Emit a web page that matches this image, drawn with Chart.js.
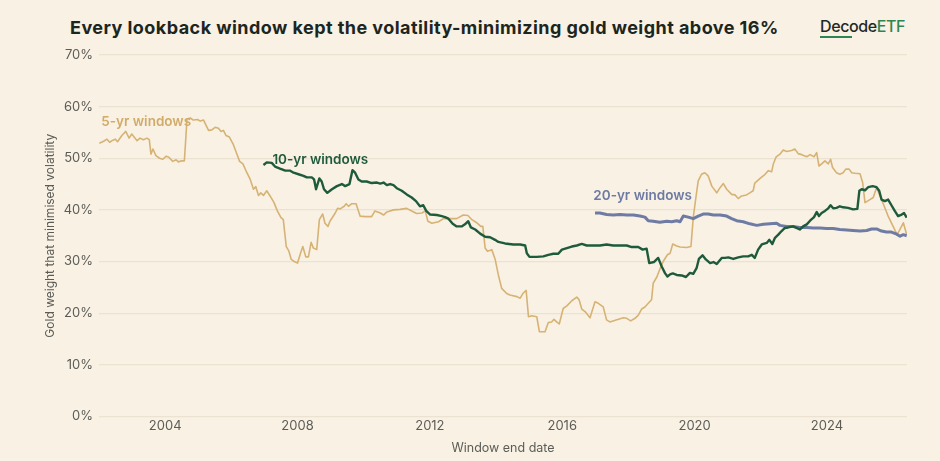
<!DOCTYPE html>
<html lang="en">
    <head>
        <meta charset="utf-8" />
        <title>Gold weight that minimised volatility</title>
        <style>
            html, body { margin: 0; padding: 0; background: #f9f1e4; }
            #wrap { position: relative; width: 940px; height: 461px; overflow: hidden; }
            #title { position: absolute; left: 70px; top: 17px; font-family: Inter, "Noto Sans", sans-serif; font-weight: 700; font-size: 18px; letter-spacing: 0.45px; color: #1c2620; white-space: nowrap; }
            #logo { position: absolute; left: 820px; top: 16px; font-family: Inter, "Noto Sans", sans-serif; font-weight: 500; font-size: 16px; letter-spacing: -0.4px; color: #1f2a24; white-space: nowrap; }
            #logo .etf { color: #2f8552; }
            #logo .bar { position: absolute; left: 0; top: 20px; width: 32px; height: 1.5px; background: #2f8552; }
            #chartBox { position: absolute; left: 0; top: 0; width: 940px; height: 461px; }
        </style>
    </head>
    <body>
        <div id="wrap">
            <div id="title">Every lookback window kept the volatility-minimizing gold weight above 16%</div>
            <div id="logo">Decode<span class="etf">ETF</span><div class="bar"></div></div>
            <div id="chartBox"><canvas id="goldWeightChart"></canvas></div>
        </div>

        <script src="https://cdn.jsdelivr.net/npm/chart.js"></script>
        <script>
            // window end dates (decimal years) and gold weight (%)
            const fiveYrDates = [2002.01, 2002.14, 2002.24, 2002.32, 2002.42, 2002.49, 2002.56, 2002.69, 2002.81, 2002.91,
                2002.99, 2003.15, 2003.24, 2003.34, 2003.45, 2003.52, 2003.57, 2003.63, 2003.72, 2003.83,
                2003.93, 2004.03, 2004.11, 2004.23, 2004.33, 2004.40, 2004.50, 2004.58, 2004.66, 2004.76,
                2004.85, 2004.98, 2005.06, 2005.16, 2005.31, 2005.41, 2005.51, 2005.61, 2005.69, 2005.76,
                2005.84, 2005.94, 2006.05, 2006.15, 2006.25, 2006.35, 2006.47, 2006.57, 2006.67, 2006.74,
                2006.82, 2006.89, 2006.97, 2007.07, 2007.17, 2007.29, 2007.39, 2007.50, 2007.57, 2007.66,
                2007.74, 2007.81, 2007.90, 2008.00, 2008.10, 2008.16, 2008.25, 2008.33, 2008.41, 2008.48,
                2008.58, 2008.66, 2008.76, 2008.83, 2008.92, 2008.98, 2009.14, 2009.21, 2009.29, 2009.41,
                2009.47, 2009.54, 2009.64, 2009.77, 2009.89, 2010.04, 2010.24, 2010.34, 2010.50, 2010.60,
                2010.70, 2010.90, 2011.10, 2011.30, 2011.45, 2011.60, 2011.76, 2011.86, 2011.94, 2012.06,
                2012.26, 2012.41, 2012.61, 2012.81, 2013.01, 2013.15, 2013.27, 2013.42, 2013.54, 2013.60,
                2013.67, 2013.74, 2013.87, 2013.97, 2014.07, 2014.17, 2014.32, 2014.42, 2014.63, 2014.73,
                2014.81, 2014.91, 2014.98, 2015.08, 2015.23, 2015.31, 2015.48, 2015.58, 2015.68, 2015.75,
                2015.83, 2015.91, 2016.03, 2016.14, 2016.29, 2016.44, 2016.51, 2016.59, 2016.69, 2016.84,
                2016.99, 2017.09, 2017.24, 2017.34, 2017.44, 2017.65, 2017.85, 2017.95, 2018.07, 2018.20,
                2018.30, 2018.40, 2018.50, 2018.60, 2018.70, 2018.75, 2018.86, 2018.95, 2019.05, 2019.18,
                2019.26, 2019.34, 2019.46, 2019.56, 2019.76, 2019.89, 2019.96, 2020.04, 2020.11, 2020.21,
                2020.31, 2020.41, 2020.52, 2020.67, 2020.77, 2020.87, 2020.97, 2021.12, 2021.22, 2021.32,
                2021.42, 2021.57, 2021.67, 2021.77, 2021.82, 2021.98, 2022.13, 2022.23, 2022.33, 2022.38,
                2022.46, 2022.58, 2022.68, 2022.78, 2022.93, 2023.03, 2023.13, 2023.24, 2023.39, 2023.49,
                2023.61, 2023.69, 2023.76, 2023.84, 2023.94, 2024.04, 2024.11, 2024.17, 2024.29, 2024.39,
                2024.49, 2024.57, 2024.67, 2024.75, 2024.85, 2025.00, 2025.08, 2025.15, 2025.30, 2025.40,
                2025.50, 2025.65, 2025.75, 2025.85, 2026.00, 2026.12, 2026.18, 2026.31, 2026.41];
            const fiveYrValues = [52.9, 53.3, 53.7, 53.1, 53.5, 53.7, 53.2, 54.4, 55.2, 53.9,
                54.7, 53.4, 53.9, 53.6, 53.9, 53.6, 50.8, 51.8, 50.5, 50.0,
                49.8, 50.4, 50.2, 49.4, 49.7, 49.3, 49.5, 49.5, 57.6, 57.8,
                57.4, 57.5, 57.2, 57.4, 55.4, 55.5, 56.0, 55.8, 55.2, 55.4,
                54.4, 54.1, 52.8, 51.1, 49.4, 48.9, 47.2, 45.9, 44.0, 44.5,
                42.8, 43.3, 42.8, 43.7, 42.7, 41.4, 39.8, 38.5, 38.1, 32.9,
                32.0, 30.4, 30.0, 29.7, 31.8, 32.9, 30.9, 30.9, 33.7, 32.6,
                32.3, 38.1, 39.2, 37.4, 36.8, 37.8, 39.4, 40.3, 40.2, 40.7,
                41.2, 40.7, 41.2, 41.2, 38.8, 38.7, 38.7, 39.8, 39.4, 39.0,
                39.6, 40.0, 40.1, 40.3, 39.8, 39.3, 39.4, 39.8, 37.8, 37.4,
                37.7, 38.3, 38.3, 38.3, 39.0, 38.9, 38.1, 37.5, 36.8, 36.8,
                32.6, 32.0, 32.3, 30.5, 27.4, 24.8, 23.8, 23.5, 23.2, 22.9,
                23.8, 24.4, 19.3, 19.5, 19.3, 16.4, 16.4, 18.2, 18.3, 18.8,
                18.3, 17.9, 20.9, 21.4, 22.4, 23.1, 22.6, 20.8, 20.3, 19.1,
                22.2, 21.9, 21.2, 18.7, 18.3, 18.7, 19.1, 19.0, 18.5, 19.0,
                19.6, 20.8, 21.2, 21.9, 22.6, 25.8, 27.0, 28.5, 30.0, 31.3,
                31.6, 33.4, 33.0, 32.8, 32.7, 32.9, 38.5, 42.4, 45.6, 46.9,
                47.2, 46.6, 44.6, 43.3, 44.3, 45.1, 44.0, 43.0, 42.9, 42.2,
                42.7, 42.9, 43.3, 43.7, 45.2, 46.1, 46.9, 47.6, 47.4, 48.9,
                50.2, 50.8, 51.6, 51.3, 51.5, 51.8, 50.9, 50.7, 50.3, 50.7,
                50.3, 51.1, 48.5, 48.9, 49.5, 48.9, 49.8, 48.2, 47.2, 46.9,
                47.2, 47.9, 47.9, 47.2, 47.1, 47.0, 45.3, 41.4, 42.0, 42.4,
                44.3, 42.0, 40.4, 38.8, 36.8, 35.2, 35.9, 37.5, 35.2];

            const tenYrDates = [2006.97, 2007.07, 2007.22, 2007.32, 2007.47, 2007.63, 2007.78, 2007.88, 2008.03, 2008.18,
                2008.28, 2008.43, 2008.50, 2008.56, 2008.66, 2008.73, 2008.80, 2008.90, 2009.04, 2009.19,
                2009.34, 2009.44, 2009.57, 2009.66, 2009.74, 2009.84, 2009.94, 2010.09, 2010.24, 2010.40,
                2010.50, 2010.60, 2010.70, 2010.80, 2010.90, 2011.00, 2011.15, 2011.30, 2011.45, 2011.58,
                2011.70, 2011.80, 2011.89, 2012.01, 2012.21, 2012.36, 2012.46, 2012.56, 2012.69, 2012.81,
                2012.96, 2013.06, 2013.16, 2013.24, 2013.37, 2013.52, 2013.67, 2013.82, 2013.97, 2014.07,
                2014.27, 2014.52, 2014.73, 2014.88, 2014.93, 2015.01, 2015.23, 2015.43, 2015.58, 2015.73,
                2015.88, 2015.99, 2016.14, 2016.29, 2016.44, 2016.59, 2016.74, 2016.94, 2017.14, 2017.34,
                2017.54, 2017.75, 2017.95, 2018.10, 2018.30, 2018.43, 2018.55, 2018.63, 2018.77, 2018.90,
                2019.01, 2019.11, 2019.18, 2019.26, 2019.34, 2019.46, 2019.61, 2019.74, 2019.86, 2019.96,
                2020.06, 2020.13, 2020.24, 2020.34, 2020.47, 2020.57, 2020.67, 2020.82, 2020.92, 2021.02,
                2021.17, 2021.32, 2021.47, 2021.62, 2021.73, 2021.82, 2021.92, 2022.03, 2022.18, 2022.26,
                2022.35, 2022.43, 2022.53, 2022.63, 2022.73, 2022.83, 2022.98, 2023.08, 2023.18, 2023.28,
                2023.39, 2023.49, 2023.61, 2023.69, 2023.76, 2023.84, 2023.94, 2024.04, 2024.11, 2024.19,
                2024.29, 2024.39, 2024.49, 2024.64, 2024.79, 2024.92, 2024.98, 2025.05, 2025.15, 2025.25,
                2025.38, 2025.50, 2025.58, 2025.65, 2025.75, 2025.85, 2025.95, 2026.05, 2026.15, 2026.26,
                2026.33, 2026.41];
            const tenYrValues = [48.7, 49.2, 49.1, 48.4, 48.0, 47.6, 47.6, 47.2, 46.9, 46.6,
                46.3, 46.3, 45.9, 44.0, 46.1, 45.5, 44.0, 43.3, 44.0, 44.6,
                45.0, 44.6, 45.0, 47.7, 47.2, 45.9, 45.5, 45.5, 45.2, 45.3,
                45.1, 45.3, 44.8, 45.0, 44.8, 44.2, 43.7, 43.0, 42.4, 41.7,
                40.7, 40.9, 39.8, 39.1, 39.0, 38.8, 38.6, 38.3, 37.3, 36.8,
                36.8, 37.2, 37.8, 36.6, 36.2, 35.4, 34.8, 34.7, 34.2, 33.8,
                33.5, 33.3, 33.3, 33.1, 31.6, 30.9, 30.9, 31.0, 31.3, 31.5,
                31.5, 32.3, 32.6, 32.9, 33.1, 33.4, 33.1, 33.1, 33.1, 33.3,
                33.1, 33.1, 33.1, 32.8, 32.8, 32.3, 32.5, 29.7, 29.9, 30.7,
                29.0, 27.7, 27.1, 27.5, 27.7, 27.4, 27.3, 27.0, 27.8, 27.6,
                28.7, 30.5, 31.2, 30.4, 29.7, 29.9, 29.5, 30.7, 30.7, 30.8,
                30.5, 30.8, 31.0, 31.0, 31.3, 30.7, 32.3, 33.3, 33.6, 34.2,
                33.4, 34.6, 35.2, 35.9, 36.5, 36.6, 36.8, 36.5, 36.2, 36.8,
                37.2, 37.9, 38.6, 39.6, 38.8, 39.4, 39.8, 40.3, 40.9, 40.3,
                40.4, 40.7, 40.5, 40.4, 40.1, 40.2, 43.7, 44.0, 43.8, 44.4,
                44.6, 44.4, 43.7, 42.0, 41.7, 42.0, 40.9, 39.8, 38.8, 39.1,
                39.4, 38.5];

            const twentyYrDates = [2016.99, 2017.14, 2017.34, 2017.54, 2017.75, 2017.95, 2018.15, 2018.35, 2018.50, 2018.60,
                2018.75, 2018.95, 2019.16, 2019.31, 2019.46, 2019.56, 2019.66, 2019.81, 2019.96, 2020.11,
                2020.26, 2020.41, 2020.57, 2020.77, 2020.97, 2021.12, 2021.27, 2021.47, 2021.67, 2021.88,
                2022.08, 2022.28, 2022.48, 2022.58, 2022.78, 2022.98, 2023.18, 2023.39, 2023.59, 2023.79,
                2023.99, 2024.19, 2024.39, 2024.60, 2024.79, 2025.00, 2025.20, 2025.35, 2025.50, 2025.65,
                2025.80, 2025.95, 2026.11, 2026.21, 2026.31, 2026.41];
            const twentyYrValues = [39.4, 39.4, 39.1, 39.0, 39.1, 39.0, 39.0, 38.8, 38.6, 37.9,
                37.8, 37.6, 37.8, 37.7, 37.9, 37.7, 38.8, 38.6, 38.3, 38.8,
                39.2, 39.2, 39.0, 39.0, 38.8, 38.3, 37.9, 37.7, 37.3, 37.0,
                37.2, 37.3, 37.4, 37.0, 36.8, 36.8, 36.6, 36.6, 36.5, 36.5,
                36.4, 36.4, 36.2, 36.1, 36.0, 35.9, 36.0, 36.3, 36.3, 35.9,
                35.7, 35.7, 35.3, 34.9, 35.2, 35.0];

            const xTicks = [2004, 2008, 2012, 2016, 2020, 2024];
            const seriesNames = ['5-yr windows', '10-yr windows', '20-yr windows'];

            function toPoints(dates, values) {
                return dates.map(function(d, i) { return { x: d, y: values[i] }; });
            }

            // inline series labels, anchored in data space
            const seriesLabels = {
                id: 'seriesLabels',
                afterDatasetsDraw: function(chart) {
                    const xs = chart.scales.x, ys = chart.scales.y, c = chart.ctx;
                    const spots = [
                        { text: seriesNames[0], x: 2002.07, y: 57.0, color: '#d1ab68' },
                        { text: seriesNames[1], x: 2007.24, y: 49.7, color: '#1e5b3b' },
                        { text: seriesNames[2], x: 2016.94, y: 42.7, color: '#6d7aa2' }
                    ];
                    c.save();
                    c.font = '600 13.5px Inter, "Noto Sans", sans-serif';
                    c.textBaseline = 'middle';
                    c.textAlign = 'left';
                    spots.forEach(function(s) {
                        c.fillStyle = s.color;
                        c.fillText(s.text, xs.getPixelForValue(s.x), ys.getPixelForValue(s.y));
                    });
                    c.restore();
                }
            };

            const tickFont = { family: 'Inter, "Noto Sans", sans-serif', size: 13 };

            new Chart(document.getElementById('goldWeightChart'), {
                type: 'line',
                data: {
                    datasets: [{
                        label: seriesNames[1],
                        data: toPoints(tenYrDates, tenYrValues),
                        borderColor: '#1e5b3b',
                        borderWidth: 2.4,
                        order: 1
                    }, {
                        label: seriesNames[2],
                        data: toPoints(twentyYrDates, twentyYrValues),
                        borderColor: '#6e7ba3',
                        borderWidth: 3,
                        order: 2
                    }, {
                        label: seriesNames[0],
                        data: toPoints(fiveYrDates, fiveYrValues),
                        borderColor: '#d6b375',
                        borderWidth: 1.6,
                        order: 3
                    }]
                },
                options: {
                    responsive: true,
                    maintainAspectRatio: false,
                    animation: false,
                    elements: {
                        point: { radius: 0 },
                        line: { tension: 0, borderJoinStyle: 'round' }
                    },
                    layout: { padding: { top: 55, right: 33, bottom: 5, left: 43 } },
                    plugins: {
                        legend: { display: false },
                        tooltip: { enabled: false }
                    },
                    scales: {
                        x: {
                            type: 'linear',
                            min: 2002,
                            max: 2026.42,
                            afterBuildTicks: function(scale) {
                                scale.ticks = xTicks.map(function(v) { return { value: v }; });
                            },
                            ticks: {
                                color: '#5b5c57',
                                font: tickFont,
                                padding: 2,
                                maxRotation: 0,
                                callback: function(v) { return String(v); }
                            },
                            grid: { display: false, drawTicks: false },
                            border: { display: false },
                            title: {
                                display: true,
                                text: 'Window end date',
                                color: '#5b5c57',
                                font: { family: 'Inter, "Noto Sans", sans-serif', size: 12.5 },
                                padding: { top: 5, bottom: 0 }
                            }
                        },
                        y: {
                            min: 0,
                            max: 70,
                            afterFit: function(scale) { scale.width = 56; },
                            ticks: {
                                stepSize: 10,
                                color: '#5b5c57',
                                font: tickFont,
                                padding: 6,
                                callback: function(v) { return v + '%'; }
                            },
                            grid: { color: '#ebe2d1', lineWidth: 1.2, drawTicks: false },
                            border: { display: false },
                            title: {
                                display: true,
                                text: 'Gold weight that minimised volatility',
                                color: '#5b5c57',
                                font: { family: 'Inter, "Noto Sans", sans-serif', size: 12 },
                                padding: { top: 0, bottom: 0 }
                            }
                        }
                    }
                },
                plugins: [seriesLabels]
            });
        </script>
    </body>
</html>
